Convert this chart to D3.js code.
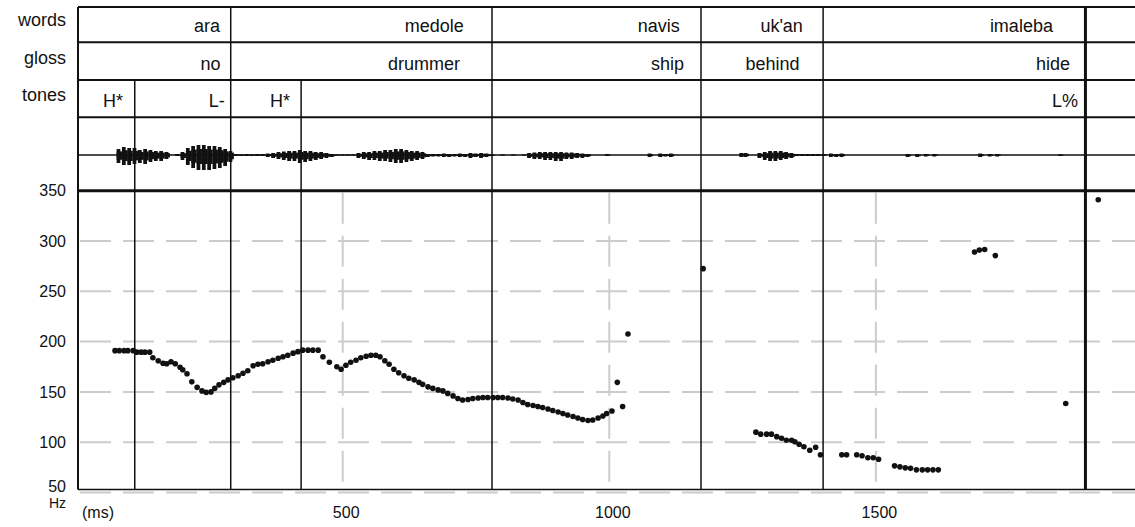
<!DOCTYPE html>
<head>
    <meta charset="utf-8">
    <title>Pitch track with tiers</title>
    <style>
        body { margin: 0; background: #fff; }
        svg text { font-family: "Liberation Sans", Arial, sans-serif; fill: #111; }
    </style>
</head>
<body>

<svg width="1135" height="527"></svg>

<script src="https://d3js.org/d3.v7.min.js"></script>

<script>

// ---- data (times in ms, pitch in Hz) ----
var tierNames = ['words', 'gloss', 'tones'];

var wordLabels = ['ara', 'medole', 'navis', "uk'an", 'imaleba'];
var wordLabelMs = [270, 727, 1132, 1363, 1832];
var glossLabels = ['no', 'drummer', 'ship', 'behind', 'hide'];
var glossLabelMs = [271, 720, 1140, 1357, 1864];
var toneLabels = ['H*', 'L-', 'H*', 'L%'];
var toneLabelMs = [88, 279, 401, 1879];

var wordBoundMs = [290, 780, 1172, 1401];
var toneBoundMs = [110, 422];
var endBoundMs = 1893;

var yTicks = [50, 100, 150, 200, 250, 300, 350];
var xTicks = [500, 1000, 1500];

var pitchMs = [73, 81, 90, 97, 107, 114, 122, 129, 138, 144, 154, 163, 170, 178, 186, 195, 200, 208, 217, 227,
    236, 244, 253, 260, 268, 277, 285, 294, 304, 313, 322, 332, 341, 350, 360, 369, 379, 388, 397, 407,
    416, 425, 435, 444, 454, 463, 475, 489, 497, 506, 515, 525, 534, 544, 553, 562, 570, 579, 587, 596,
    605, 615, 624, 634, 643, 650, 660, 669, 679, 688, 697, 707, 716, 725, 735, 744, 754, 763, 772, 782,
    791, 800, 810, 819, 829, 838, 847, 857, 866, 875, 885, 894, 904, 913, 922, 932, 941, 950, 960, 969,
    979, 988, 995, 1005, 1015, 1025, 1035, 1176,
    1275, 1284, 1295, 1304, 1314, 1323, 1332, 1342, 1348, 1356, 1365, 1376, 1387, 1396,
    1436, 1445, 1464, 1474, 1485, 1495, 1505,
    1535, 1545, 1555, 1565, 1576, 1587, 1597, 1607, 1617,
    1685, 1694, 1704, 1724, 1856, 1917];
var pitchHz = [191, 191, 191, 191, 191, 189.5, 189.5, 189.5, 189.5, 184, 181, 178.5, 178, 180, 178, 174.5, 172, 168, 160, 154.5,
    151, 149.5, 150, 153.5, 157, 159.5, 162, 164, 166, 168.5, 171, 176, 177.5, 178, 180, 181.5, 183.5, 185, 186.5, 188.5,
    190, 191.5, 191.5, 191.5, 191.5, 185, 179.5, 175, 172.5, 176.5, 179.5, 181.5, 184, 185.5, 186.5, 186.5, 185, 181, 177.5, 172.5,
    169, 166, 163.5, 162, 159.5, 157.5, 155, 153.5, 152, 151, 148.5, 146, 143.5, 142, 142.5, 143.5, 144, 144.5, 144.5, 144.5,
    144.5, 144.5, 144, 143, 142, 139.5, 137.5, 136.5, 135.5, 134.5, 133, 131.5, 130, 128.5, 127, 125.5, 124, 122.5, 121.5, 122,
    124, 126, 128.5, 131, 159.5, 135.5, 207.5, 272.5,
    110, 108, 108, 108, 105.5, 104, 102, 102, 100.5, 98, 95.5, 92, 95, 87.5,
    87.5, 87.5, 87.5, 86.5, 84.5, 84.5, 83,
    76.5, 75.5, 74.5, 74, 72.5, 72.5, 72.5, 72.5, 72.5,
    289, 291, 291.5, 285.5, 138.5, 341];

// waveform envelope: time, amplitude above and below the zero line
var waveMs = [76, 86, 96, 106, 116, 126, 136, 146, 156, 166, 186, 196, 206, 216, 226, 236, 246, 256, 266, 276,
    286, 296, 306, 316, 326, 336, 346, 356, 366, 376, 386, 396, 406, 416, 426, 436, 446, 456, 466, 476,
    486, 496, 506, 516, 526, 536, 546, 556, 566, 576, 586, 596, 606, 616, 626, 636, 646, 656, 666, 676,
    686, 696, 706, 716, 726, 736, 746, 756, 766, 776, 796, 816, 836, 846, 856, 866, 876, 886, 896, 906,
    916, 926, 936, 946, 956, 992, 1072, 1092, 1102, 1112, 1244, 1252, 1278, 1288, 1298, 1308, 1318, 1328, 1338, 1348,
    1358, 1368, 1378, 1388, 1398, 1412, 1422, 1432, 1556, 1574, 1590, 1606, 1692, 1710, 1724, 1842];
var waveUp = [6, 8, 7, 7, 5, 6, 5, 4, 4, 3, 1, 3, 7, 9, 10, 10, 9, 9, 8, 6,
    4, 1, 0.5, 1, 0.5, 1, 1, 1.5, 2, 3, 3.5, 4, 4, 5, 4, 4, 3, 3, 2, 1,
    0.5, 0.5, 0.5, 0.5, 2, 3, 3, 4, 4, 5, 5, 6, 6, 5, 4, 4, 3, 1, 1, 1,
    1.5, 1, 1, 1.5, 1, 2, 1.5, 2, 1.5, 0.5, 0.5, 0.5, 0.5, 2, 2.5, 3, 3, 3, 3, 3,
    2.5, 2.5, 2, 1.5, 1, 1, 1.5, 1.5, 1, 1.5, 2, 2, 2, 3, 4, 4, 4, 3, 2, 1,
    1, 1, 1, 1, 1, 1.5, 1, 1.5, 1, 1, 1, 1, 1.5, 1, 1, 0.5];
var waveDown = [8, 10, 10, 9, 8, 9, 7, 6, 6, 4, 1, 5, 10, 13, 15, 15, 15, 14, 13, 11,
    7, 1, 1, 1, 1, 1, 1, 2, 3, 4, 5, 6, 6, 8, 7, 6, 5, 4, 3, 2,
    0.5, 0.5, 0.5, 0.5, 3, 4, 5, 5, 6, 6, 7, 8, 8, 7, 6, 5, 4, 2, 1.5, 1.5,
    2, 2, 1.5, 2, 2, 3, 2, 3, 2, 1, 0.5, 0.5, 0.5, 3, 4, 4, 5, 5, 6, 6,
    4, 4, 3, 3, 2, 1, 2, 2, 1.5, 2, 2, 2, 3, 5, 6, 6, 5, 4, 3, 1,
    1, 1, 1, 1, 1, 2, 2, 2, 2, 2, 1.5, 1.5, 2, 1.5, 1.5, 1];

// ---- layout ----
var svg = d3.select('svg'),
    left = 78,
    right = 1135,
    rowLines = [7, 42.3, 80, 117.3],   // top of each tier + top of waveform
    plotTop = 190.7,
    plotBottom = 489.5,
    waveMid = 155;

var x = d3.scaleLinear().domain([0, 1000]).range([76.1, 609.3]);
var y = d3.scaleLinear().domain([50, 350]).range([492.5, 190.7]);
var amp = d3.scaleLinear().domain([0, 16]).range([0, 16]); // waveform amplitude -> px

svg.append('rect').attr('width', 1135).attr('height', 527).attr('fill', '#fff');

// dashed grid in the pitch panel
svg.append('g').selectAll('line')
    .data(yTicks.filter(d => d < 350))
    .enter().append('line')
        .attr('x1', left + 2).attr('x2', right)
        .attr('y1', d => y(d)).attr('y2', d => y(d))
        .attr('stroke', '#cccccc').attr('stroke-width', 2)
        .attr('stroke-dasharray', '31,12');

svg.append('g').selectAll('line')
    .data(xTicks)
    .enter().append('line')
        .attr('x1', d => x(d)).attr('x2', d => x(d))
        .attr('y1', plotTop + 2).attr('y2', plotBottom)
        .attr('stroke', '#cccccc').attr('stroke-width', 2)
        .attr('stroke-dasharray', '31,12');

// waveform: zero line plus one spike per envelope sample
svg.append('line')
    .attr('x1', left).attr('x2', right)
    .attr('y1', waveMid).attr('y2', waveMid)
    .attr('stroke', '#111').attr('stroke-width', 1.5);

svg.append('g').selectAll('rect')
    .data(waveMs)
    .enter().append('rect')
        .attr('x', d => x(d))
        .attr('width', d => x(d + 7) - x(d))
        .attr('y', (d, i) => waveMid - amp(waveUp[i]))
        .attr('height', (d, i) => amp(waveUp[i]) + amp(waveDown[i]))
        .attr('fill', '#111');

svg.append('g').selectAll('rect')
    .data(waveMs)
    .enter().append('rect')
        .attr('x', d => x(d))
        .attr('width', d => x(d + 10) - x(d))
        .attr('y', (d, i) => waveMid - amp(waveUp[i]) * 0.6)
        .attr('height', (d, i) => (amp(waveUp[i]) + amp(waveDown[i])) * 0.6)
        .attr('fill', '#111');

// frame: horizontal rules
svg.append('g').selectAll('line')
    .data(rowLines)
    .enter().append('line')
        .attr('x1', left).attr('x2', right)
        .attr('y1', d => d).attr('y2', d => d)
        .attr('stroke', '#111').attr('stroke-width', 2);

svg.append('line')
    .attr('x1', left).attr('x2', right)
    .attr('y1', plotTop).attr('y2', plotTop)
    .attr('stroke', '#111').attr('stroke-width', 3);

svg.append('line')
    .attr('x1', left).attr('x2', right)
    .attr('y1', plotBottom).attr('y2', plotBottom)
    .attr('stroke', '#111').attr('stroke-width', 1.5);

svg.append('line')
    .attr('x1', left).attr('x2', left)
    .attr('y1', rowLines[0]).attr('y2', plotBottom)
    .attr('stroke', '#111').attr('stroke-width', 2);

// interval boundaries: word boundaries run through every tier, tone ones start at the tones tier
svg.append('g').selectAll('line')
    .data(wordBoundMs)
    .enter().append('line')
        .attr('x1', d => x(d)).attr('x2', d => x(d))
        .attr('y1', rowLines[0]).attr('y2', plotBottom)
        .attr('stroke', '#111').attr('stroke-width', 1.5);

svg.append('g').selectAll('line')
    .data(toneBoundMs)
    .enter().append('line')
        .attr('x1', d => x(d)).attr('x2', d => x(d))
        .attr('y1', rowLines[2]).attr('y2', plotBottom)
        .attr('stroke', '#111').attr('stroke-width', 1.5);

svg.append('line')
    .attr('x1', x(endBoundMs)).attr('x2', x(endBoundMs))
    .attr('y1', rowLines[0]).attr('y2', plotBottom)
    .attr('stroke', '#111').attr('stroke-width', 3);

// tier names on the left
svg.append('g').selectAll('text')
    .data(tierNames)
    .enter().append('text')
        .attr('x', 66)
        .attr('y', (d, i) => rowLines[i + 1] - 16.5)
        .attr('text-anchor', 'end')
        .style('font-size', '18px')
        .text(d => d);

// tier labels, right-aligned at their time
function tierText(labels, times, row) {
    svg.append('g').selectAll('text')
        .data(labels)
        .enter().append('text')
            .attr('x', (d, i) => x(times[i]))
            .attr('y', rowLines[row + 1] - 10.5)
            .attr('text-anchor', 'end')
            .style('font-size', '18px')
            .text(d => d);
}
tierText(wordLabels, wordLabelMs, 0);
tierText(glossLabels, glossLabelMs, 1);
tierText(toneLabels, toneLabelMs, 2);

// pitch points
svg.append('g').selectAll('circle')
    .data(pitchMs)
    .enter().append('circle')
        .attr('cx', d => x(d))
        .attr('cy', (d, i) => y(pitchHz[i]))
        .attr('r', 2.8)
        .attr('fill', '#111');

// axes
var yAxis = svg.append('g')
    .attr('transform', `translate(${left},0)`)
    .call(d3.axisLeft(y).tickValues(yTicks).tickSize(0).tickPadding(12));
yAxis.select('.domain').remove();
yAxis.selectAll('text')
    .style('font-size', '16px').style('font-family', '"Liberation Sans", Arial, sans-serif').attr('fill', '#111')
    .attr('y', d => d === 50 ? -6 : 0);

var xAxis = svg.append('g')
    .attr('transform', `translate(0,${plotBottom})`)
    .call(d3.axisBottom(x).tickValues(xTicks).tickFormat(d3.format('d')).tickSize(0).tickPadding(17));
xAxis.select('.domain').remove();
xAxis.selectAll('text')
    .style('font-size', '16px').style('font-family', '"Liberation Sans", Arial, sans-serif').attr('fill', '#111')
    .attr('dx', 3);

svg.append('text')
    .attr('x', 66).attr('y', 508)
    .attr('text-anchor', 'end')
    .style('font-size', '14px')
    .text('Hz');

svg.append('text')
    .attr('x', 82).attr('y', 518)
    .style('font-size', '16px')
    .text('(ms)');

</script>

</body>
